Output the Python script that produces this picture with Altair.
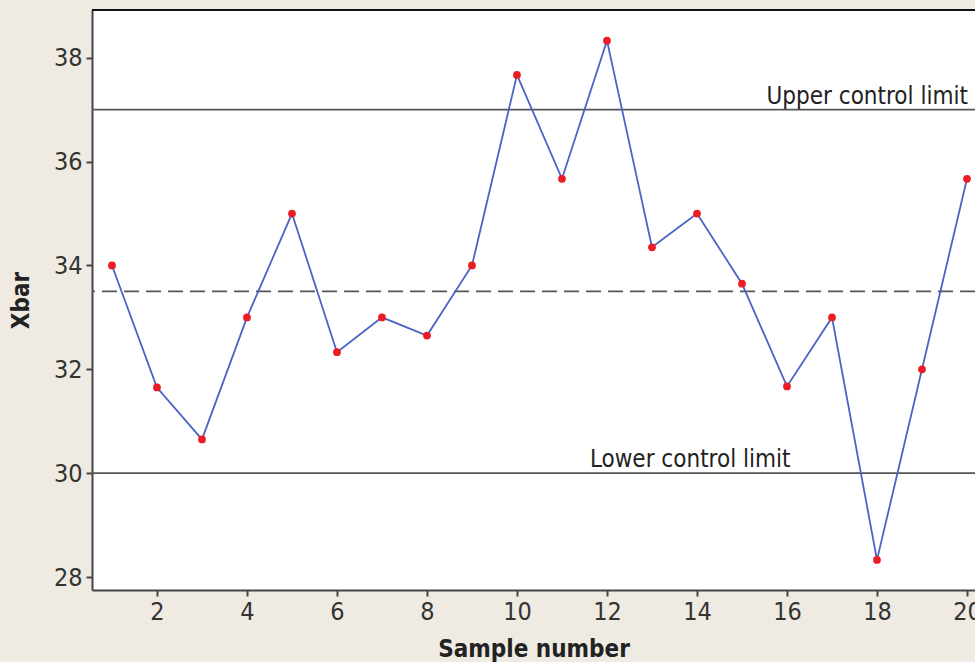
import altair as alt
import pandas as pd

samples = list(range(1, 21))
xbar = [34.0, 31.65, 30.65, 33.0, 35.0, 32.33, 33.0, 32.65, 34.0, 37.67,
        35.67, 38.33, 34.35, 35.0, 33.65, 31.67, 33.0, 28.33, 32.0, 35.67]
center_line = 33.5
ucl = 37.0
lcl = 30.0
limit_labels = ["Upper control limit", "Lower control limit"]

FONT = "DejaVu Sans Condensed"

df = pd.DataFrame({"Sample number": samples, "Xbar": xbar})
lim = pd.DataFrame({"y": [ucl, lcl], "label": limit_labels,
                    "lx": [20.02, 11.62]})
cl = pd.DataFrame({"y": [center_line]})

xs = alt.Scale(domain=[0.556, 20.178], nice=False, zero=False)
ys = alt.Scale(domain=[27.75, 38.92], nice=False, zero=False)

x_enc = alt.X("Sample number:Q", scale=xs,
              axis=alt.Axis(values=list(range(2, 21, 2)), grid=False, title="Sample number",
                            domainColor="#444", domainWidth=2, tickColor="#444", tickWidth=2,
                            tickSize=6, labelFontSize=25, labelColor="#333", labelFont=FONT,
                            labelPadding=3, titleFont=FONT, titleFontSize=24, titleFontWeight="bold",
                            titleColor="#222", titlePadding=13))
y_enc = alt.Y("Xbar:Q", scale=ys,
              axis=alt.Axis(values=list(range(28, 39, 2)), grid=False, title="Xbar",
                            domainColor="#444", domainWidth=2, tickColor="#444", tickWidth=2,
                            tickSize=6, labelFontSize=25, labelColor="#333", labelFont=FONT,
                            labelPadding=4, titleFont=FONT, titleFontSize=24, titleFontWeight="bold",
                            titleColor="#222", titlePadding=20))

line = alt.Chart(df).mark_line(color="#4b63c4", strokeWidth=1.8).encode(x=x_enc, y=y_enc)
pts = alt.Chart(df).mark_circle(color="#ec1c24", size=60, opacity=1).encode(
    x=alt.X("Sample number:Q", scale=xs), y=alt.Y("Xbar:Q", scale=ys))

limits = alt.Chart(lim).mark_rule(color="#555", strokeWidth=1.8).encode(
    y=alt.Y("y:Q", scale=ys))
center = alt.Chart(cl).mark_rule(color="#555", strokeWidth=1.8, strokeDash=[15, 7]).encode(
    y=alt.Y("y:Q", scale=ys))

lab_u = alt.Chart(lim.iloc[[0]]).mark_text(align="right", baseline="bottom", dy=-1,
                                           font=FONT, fontSize=24, color="#222").encode(
    x=alt.X("lx:Q", scale=xs), y=alt.Y("y:Q", scale=ys), text="label:N")
lab_l = alt.Chart(lim.iloc[[1]]).mark_text(align="left", baseline="bottom", dy=-1,
                                           font=FONT, fontSize=24, color="#222").encode(
    x=alt.X("lx:Q", scale=xs), y=alt.Y("y:Q", scale=ys), text="label:N")

top_border = alt.Chart(cl).mark_rule(color="#111", strokeWidth=2).encode(
    x=alt.value(0), x2=alt.value(883), y=alt.value(0))

chart = alt.layer(limits, center, line, pts, lab_u, lab_l, top_border).properties(
    width=883, height=580,
    autosize=alt.AutoSizeParams(type="none"),
    padding={"left": 92, "top": 10, "right": 0, "bottom": 72},
    background="#efebe2",
).configure_view(stroke=None, fill="white")

chart.save("out.html", embed_options={"renderer": "svg", "actions": False})
